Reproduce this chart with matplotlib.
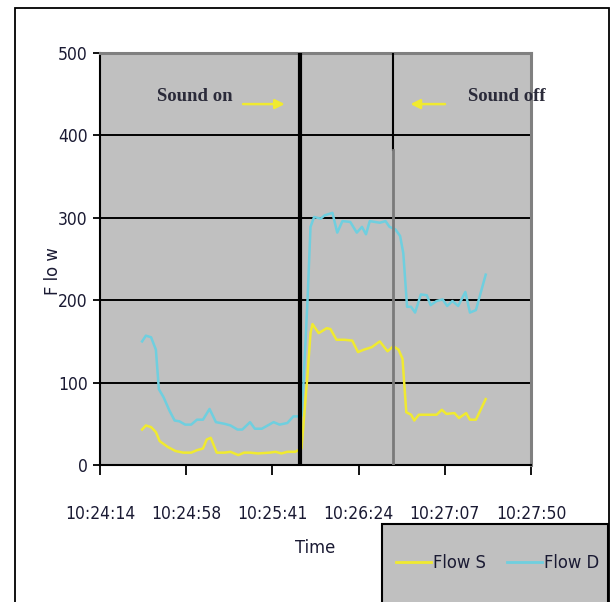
import matplotlib
matplotlib.use('Agg')
import matplotlib.pyplot as plt
from matplotlib import font_manager
from matplotlib.font_manager import FontProperties
from matplotlib.patches import Rectangle
from matplotlib.lines import Line2D

# seconds after 10:24:14
time_s = [21.1, 23.0, 25.6, 28.0, 29.9, 33.9, 37.8, 41.7, 45.7, 48.6, 51.6, 53.5, 55.5, 58.5,
          62.4, 65.4, 69.3, 72.2, 75.2, 79.1, 85.0, 88.0, 90.9, 93.9, 97.8, 101.0, 102.0,
          104.0, 105.5, 106.5, 109.6, 113.6, 115.5, 118.5, 122.4, 126.4, 129.3, 132.3, 136.2,
          140.2, 144.1, 147.0, 149.6, 151.6, 153.5, 155.9, 157.5, 159.8, 163.8, 168.7, 171.3,
          173.6, 177.6, 179.9, 183.5, 185.4, 188.4, 193.3]
flow_s = [43, 48, 46, 40, 29, 22, 17, 15, 15, 18, 20, 31, 33, 15,
          15, 16, 12, 15, 15, 14, 15, 16, 14, 16, 16, 20, 50,
          110, 160, 171, 160, 166, 165, 152, 152, 151, 137, 140, 143,
          150, 138, 144, 140, 129, 64, 61, 54, 61, 61, 61, 67,
          62, 63, 57, 63, 55, 55, 80]

time_d = [21.1, 23.0, 25.6, 28.0, 29.5, 31.9, 34.8, 37.4, 39.8, 42.7, 45.7, 48.6, 51.6, 54.9,
          58.1, 62.4, 65.4, 68.9, 71.3, 75.2, 77.6, 81.1, 87.0, 90.0, 93.9, 96.9, 99.0, 101.0,
          102.0, 104.0, 105.5, 107.3, 110.6, 112.6, 116.5, 118.9, 121.5, 125.4, 128.7, 131.3,
          133.3, 135.2, 140.2, 143.1, 145.1, 148.0, 150.4, 152.0, 153.9, 155.9, 157.9, 160.8,
          163.8, 165.7, 168.7, 171.7, 174.0, 176.6, 179.5, 183.1, 185.4, 188.4, 193.3]
flow_d = [150, 157, 155, 140, 92, 82, 66, 54, 53, 49, 49, 55, 55, 68,
          52, 50, 48, 43, 43, 52, 44, 44, 52, 49, 51, 59, 59, 60,
          100, 200, 289, 301, 299, 303, 306, 282, 296, 295, 282, 289,
          280, 296, 294, 296, 289, 286, 278, 257, 192, 192, 185, 207,
          206, 194, 199, 201, 193, 199, 193, 210, 185, 188, 231]

sound_on_time = 100.0
sound_off_time = 147.0

tick_times = [0, 43.2, 86.4, 129.6, 172.8, 216.0]
tick_labels = ['10:24:14', '10:24:58', '10:25:41', '10:26:24', '10:27:07', '10:27:50']
y_ticks = [0, 100, 200, 300, 400, 500]


def find_narrow_font():
    bad = ['bold', 'italic', 'oblique', 'light', 'semi', 'extra', 'medium', 'thin', 'black', 'mono', 'serif']
    prefer = ['liberationsansnarrow-regular', 'dejavusanscondensed.', 'notosans-condensed.',
              'robotocondensed-regular', 'opensans_condensed-regular', 'opensans-condensed']
    found = []
    for f in font_manager.fontManager.ttflist:
        low = f.fname.lower().split('/')[-1]
        if ('condensed' in low or 'narrow' in low) and not any(b in low for b in bad):
            found.append(f.fname)
    for p in prefer:
        for fn in found:
            if p in fn.lower():
                return fn
    return found[0] if found else None


narrow_file = find_narrow_font()


def narrow_font(size):
    if narrow_file:
        return FontProperties(fname=narrow_file, size=size)
    return FontProperties(family='Liberation Sans', size=size)


installed = {f.name for f in font_manager.fontManager.ttflist}
serif = 'Liberation Serif' if 'Liberation Serif' in installed else 'DejaVu Serif'
txt_color = '#1a1a33'
yellow = '#f0ea30'
cyan = '#6fcfdf'

W, H = 613, 602
fig = plt.figure(figsize=(W / 100, H / 100), dpi=100)
fig.patch.set_facecolor('white')

# size the narrow font so a tick label is about as wide as in the picture
renderer = fig.canvas.get_renderer()
probe = fig.text(0, 0, '10:24:14', fontproperties=narrow_font(10))
probe_w = probe.get_window_extent(renderer).width
probe.remove()
base = 10 * 70.0 / probe_w

# outer frame
fig.patches.append(Rectangle((15 / W, -0.02), (609 - 15) / W, 1.02 - 8 / H, transform=fig.transFigure,
                             fill=False, edgecolor='black', linewidth=1.3))

ax = fig.add_axes([100 / W, 1 - 465 / H, (531 - 100) / W, (465 - 53) / H])
ax.set_facecolor('#c0c0c0')

for y in y_ticks[1:-1]:
    ax.axhline(y, color='black', linewidth=1.4, zorder=1)

ax.axvline(sound_on_time, color='black', linewidth=3, zorder=4)
ax.plot([sound_off_time, sound_off_time], [382, 500], color='black', linewidth=1.5, zorder=4)
ax.plot([sound_off_time, sound_off_time], [0, 382], color='#7a7a7a', linewidth=2, zorder=4)

ax.plot(time_s, flow_s, color=yellow, linewidth=1.8, zorder=3)
ax.plot(time_d, flow_d, color=cyan, linewidth=1.8, zorder=3)

ax.set_xlim(tick_times[0], tick_times[-1])
ax.set_ylim(0, 500)
ax.set_xticks(tick_times)
ax.set_xticklabels(tick_labels, color=txt_color)
ax.set_yticks(y_ticks)
ax.set_yticklabels([str(v) for v in y_ticks], color=txt_color)
for lab in ax.get_xticklabels() + ax.get_yticklabels():
    lab.set_fontproperties(narrow_font(base))
ax.tick_params(axis='x', direction='out', length=7, width=1.3, pad=22)
ax.tick_params(axis='y', direction='out', length=5, width=1.3, pad=4)

for side in ['left', 'bottom']:
    ax.spines[side].set_color('black')
    ax.spines[side].set_linewidth(1.5)
for side in ['top', 'right']:
    ax.spines[side].set_color('#808080')
    ax.spines[side].set_linewidth(2.2)

ax.set_xlabel('Time', fontproperties=narrow_font(base * 1.05), color=txt_color)
ax.xaxis.set_label_coords(0.5, -0.18)
ax.set_ylabel('F lo w', fontproperties=narrow_font(base * 1.05), color=txt_color)
ax.yaxis.set_label_coords(-0.088, 0.47)

ax.text(28.6, 447, 'Sound on', fontfamily=serif, fontweight='bold', fontsize=13.5,
        color='#2b2b3a', va='center', ha='left')
ax.annotate('', xy=(94.0, 438), xytext=(70.3, 438),
            arrowprops=dict(arrowstyle='-|>', color=yellow, lw=1.8, mutation_scale=14))
ax.text(184.4, 447, 'Sound off', fontfamily=serif, fontweight='bold', fontsize=13.5,
        color='#2b2b3a', va='center', ha='left', clip_on=False)
ax.annotate('', xy=(154.2, 438), xytext=(174.3, 438),
            arrowprops=dict(arrowstyle='-|>', color=yellow, lw=1.8, mutation_scale=14))

# legend box
fig.patches.append(Rectangle((382 / W, -0.02), (608 - 382) / W, 0.02 + 1 - 524 / H, transform=fig.transFigure,
                             facecolor='#c0c0c0', edgecolor='black', linewidth=1.5))
handles = [Line2D([], [], color=yellow, linewidth=2), Line2D([], [], color=cyan, linewidth=2)]
fig.legend(handles, ['Flow S', 'Flow D'], loc='center left', bbox_to_anchor=(396 / W, 1 - 563 / H),
           ncol=2, frameon=False, handlelength=1.9, handletextpad=0.1, columnspacing=1.2,
           borderpad=0, borderaxespad=0,
           prop=narrow_font(base * 1.05), labelcolor=txt_color)

plt.savefig('out.png', dpi=100)
plt.close('all')
